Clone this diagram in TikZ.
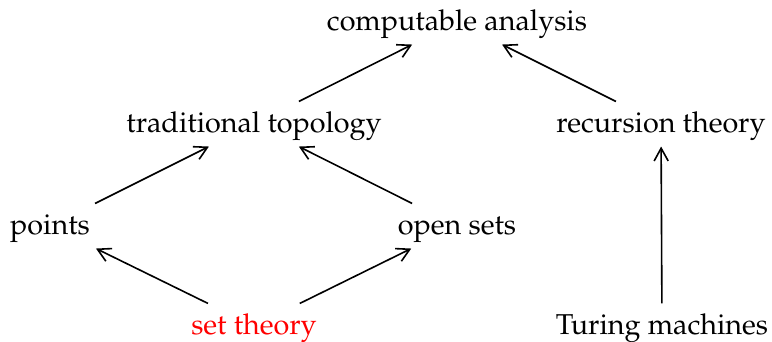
\documentclass[tikz,border=0pt]{standalone}
\usepackage[T1]{fontenc}
\usepackage{mathpazo}
\usepackage{xcolor}
\usetikzlibrary{arrows.meta, positioning}

\begin{document}
\begin{tikzpicture}[x=0.011cm, y=-0.011cm, line width=0.5pt]
        \useasboundingbox (0,0) rectangle (772,342);
        \tikzset{topic/.style={font={\fontsize{9}{11}\selectfont}, inner sep=2pt,
                     text height=1.6ex, text depth=0.45ex},
                 implies/.style={-{Straight Barb[length=4pt, width=4.4pt]}}}
        \node[topic] (ca) at (457,22) {computable analysis};
        \node[topic] (tt) at (254,124) {traditional topology};
        \node[topic] (rt) at (661,124) {recursion theory};
        \node[topic] (pt) at (50,226) {points};
        \node[topic] (os) at (457,226) {open sets};
        \node[topic, red] (st) at (254,326) {set theory};
        \node[topic] (tm) at (662,326) {Turing machines};
        \draw[implies] (tt) -- (ca);
        \draw[implies] (rt) -- (ca);
        \draw[implies] (pt) -- (tt);
        \draw[implies] (os) -- (tt);
        \draw[implies] (st) -- (pt);
        \draw[implies] (st) -- (os);
        \draw[implies] (tm) -- (rt);
    \end{tikzpicture}
\end{document}
